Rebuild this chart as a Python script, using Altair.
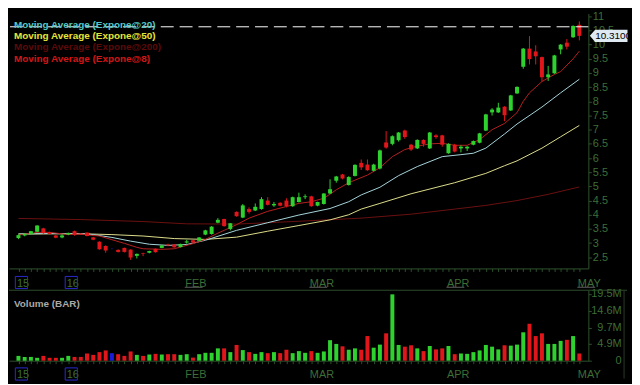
import altair as alt
import pandas as pd

# ---------------- data ----------------
bar_index = list(range(91))
opens = [3.18, 3.27, 3.32, 3.40, 3.52, 3.38, 3.27, 3.20, 3.30, 3.42,
         3.33, 3.37, 3.20, 3.05, 2.90, 2.80, 2.76, 2.83, 2.77, 2.55,
         2.64, 2.66, 2.80, 2.83, 2.95, 2.95, 2.86, 3.02, 3.10, 3.08,
         3.30, 3.32, 3.72, 3.85, 3.50, 4.10, 3.90, 4.20, 4.15, 4.20,
         4.50, 4.33, 4.42, 4.50, 4.30, 4.45, 4.62, 4.65, 4.32, 4.38,
         4.75, 5.20, 5.42, 5.05, 5.37, 5.83, 5.77, 5.55, 5.63, 6.55,
         6.50, 6.63, 6.97, 6.47, 6.34, 6.64, 6.34, 6.80, 6.80, 6.17,
         6.47, 6.34, 6.34, 6.47, 6.54, 6.97, 7.61, 7.61, 7.81, 7.68,
         8.28, 9.22, 9.86, 9.76, 9.56, 8.85, 8.99, 9.83, 10.07, 10.26,
         10.70]
closes = [3.28, 3.32, 3.42, 3.62, 3.35, 3.32, 3.19, 3.27, 3.36, 3.30,
          3.31, 3.25, 3.12, 2.78, 2.74, 2.80, 2.69, 2.69, 2.49, 2.62,
          2.62, 2.72, 2.68, 2.92, 2.92, 2.85, 2.97, 3.06, 3.02, 3.20,
          3.45, 3.58, 3.82, 3.60, 3.70, 3.95, 4.33, 4.10, 4.28, 4.55,
          4.35, 4.38, 4.32, 4.30, 4.62, 4.62, 4.65, 4.30, 4.45, 4.75,
          4.90, 5.35, 5.28, 5.33, 5.76, 5.67, 5.57, 5.77, 6.27, 6.37,
          6.77, 6.90, 6.74, 6.30, 6.64, 6.50, 6.90, 6.74, 6.47, 6.50,
          6.23, 6.40, 6.40, 6.60, 6.87, 7.54, 7.71, 7.78, 7.51, 8.21,
          8.51, 9.86, 9.49, 9.59, 8.85, 8.95, 9.62, 10.00, 9.93, 10.66,
          10.31]
highs = [3.30, 3.34, 3.43, 3.63, 3.54, 3.40, 3.28, 3.31, 3.37, 3.44,
         3.34, 3.38, 3.22, 3.06, 2.92, 2.82, 2.78, 2.84, 2.78, 2.63,
         2.66, 2.73, 2.81, 2.93, 2.98, 2.96, 2.98, 3.12, 3.11, 3.21,
         3.47, 3.60, 3.88, 3.86, 3.71, 4.12, 4.38, 4.26, 4.40, 4.62,
         4.62, 4.45, 4.44, 4.58, 4.64, 4.78, 4.72, 4.67, 4.46, 4.76,
         5.25, 5.37, 5.44, 5.36, 5.78, 5.95, 5.95, 5.80, 6.30, 6.95,
         6.80, 6.92, 7.00, 6.50, 6.66, 6.66, 6.92, 6.84, 6.82, 6.52,
         6.50, 6.45, 6.42, 6.62, 6.89, 7.56, 7.76, 7.95, 7.83, 8.23,
         8.53, 9.88, 10.30, 9.98, 9.58, 9.25, 9.64, 10.02, 10.20, 10.68,
         10.82]
lows = [3.14, 3.24, 3.30, 3.38, 3.33, 3.30, 3.17, 3.17, 3.28, 3.26,
        3.29, 3.24, 3.10, 2.77, 2.66, 2.78, 2.67, 2.67, 2.41, 2.46,
        2.54, 2.64, 2.66, 2.82, 2.89, 2.84, 2.85, 2.98, 3.00, 3.06,
        3.28, 3.30, 3.70, 3.58, 3.45, 3.93, 3.88, 4.04, 4.13, 4.18,
        4.33, 4.28, 4.30, 4.26, 4.28, 4.43, 4.55, 4.28, 4.30, 4.36,
        4.73, 5.13, 5.25, 5.03, 5.35, 5.58, 5.55, 5.53, 5.60, 6.33,
        6.45, 6.58, 6.68, 6.25, 6.32, 6.40, 6.32, 6.68, 6.40, 6.15,
        6.20, 6.20, 6.25, 6.45, 6.52, 6.95, 7.50, 7.59, 7.30, 7.66,
        8.26, 9.15, 9.30, 9.30, 8.70, 8.72, 8.97, 9.66, 9.83, 10.24,
        10.15]
volume_m = [1.4, 1.1, 1.1, 0.84, 1.4, 0.84, 0.84, 0.84, 1.4, 1.1,
            1.1, 2.1, 1.7, 2.5, 3.0, 2.2, 1.9, 1.4, 2.7, 1.7,
            1.4, 1.8, 2.0, 1.8, 1.9, 1.9, 1.7, 1.9, 0.9, 1.9,
            2.3, 2.3, 3.6, 3.6, 2.5, 4.6, 3.1, 2.5, 2.0, 2.5,
            2.2, 2.5, 2.2, 3.2, 2.2, 2.8, 2.3, 2.8, 2.3, 2.7,
            6.0, 4.9, 4.2, 3.2, 3.6, 3.2, 7.2, 3.8, 4.7, 8.0,
            19.4, 4.6, 4.1, 4.5, 3.6, 2.8, 4.3, 3.3, 3.6, 4.3,
            1.9, 2.1, 2.0, 2.5, 3.0, 4.6, 4.1, 3.3, 4.5, 4.4,
            4.7, 8.3, 10.8, 7.2, 8.0, 4.9, 4.9, 5.8, 6.1, 7.2,
            2.1]

ema8_idx = [0, 3, 5, 8, 10, 12, 13, 15, 17, 19, 20, 23, 25, 28, 30, 32, 33, 35, 37, 40,
            43, 45, 47, 49, 51, 53, 56, 58, 60, 62, 64, 66, 68, 70, 72, 74, 76, 78, 80,
            81, 82, 84, 86, 87, 89, 90]
ema8_val = [3.28, 3.38, 3.38, 3.30, 3.32, 3.27, 3.25, 3.12, 2.99, 2.85, 2.80, 2.78, 2.80,
            2.98, 3.13, 3.35, 3.45, 3.65, 3.88, 4.12, 4.29, 4.40, 4.46, 4.58, 4.88, 5.13,
            5.40, 5.66, 6.05, 6.30, 6.42, 6.50, 6.52, 6.45, 6.45, 6.65, 7.00, 7.22, 7.60,
            8.00, 8.30, 8.70, 8.95, 9.05, 9.50, 9.77]
ema20_idx = [0, 5, 10, 12, 15, 18, 21, 24, 27, 30, 35, 40, 45, 50, 53, 55, 58, 61, 64, 68,
             71, 73, 75, 78, 80, 84, 87, 90]
ema20_val = [3.32, 3.34, 3.33, 3.30, 3.20, 3.07, 2.96, 2.92, 2.95, 3.10, 3.45, 3.72, 3.99,
             4.22, 4.46, 4.70, 4.97, 5.38, 5.70, 6.05, 6.12, 6.17, 6.35, 6.85, 7.20, 7.80,
             8.30, 8.78]
ema50_idx = [0, 10, 15, 20, 25, 30, 35, 40, 45, 50, 53, 55, 58, 63, 70, 75, 78, 80, 84, 87, 90]
ema50_val = [3.32, 3.33, 3.30, 3.25, 3.16, 3.13, 3.21, 3.42, 3.62, 3.82, 4.00, 4.20, 4.40,
             4.74, 5.13, 5.46, 5.73, 5.90, 6.35, 6.75, 7.15]
ema200_idx = [0, 10, 20, 27, 35, 45, 55, 63, 70, 75, 80, 85, 90]
ema200_val = [3.87, 3.83, 3.76, 3.68, 3.67, 3.77, 3.88, 4.02, 4.20, 4.33, 4.50, 4.72, 4.98]

legend_labels = ["Moving Average (Expone@20)", "Moving Average (Expone@50)",
                 "Moving Average (Expone@200)", "Moving Average (Expone@8)"]
volume_label = ["Volume (BAR)"]
month_idx = [0, 8, 27, 47, 69, 90]
month_lbl = ["15", "16", "FEB", "MAR", "APR", "MAY"]
boxed_idx = [0, 8]
underlined_idx = [27, 47, 69, 90]
price_ticks = [2.5, 3, 3.5, 4, 4.5, 5, 5.5, 6, 6.5, 7, 7.5, 8, 8.5, 9, 9.5, 10, 10.5, 11]
vol_ticks = [0, 4.9, 9.7, 14.6, 19.5]
dash_level = [10.63]

# ---------------- styling ----------------
W, HP, HV, GAP = 584, 257, 71, 22
FONT = "Liberation Sans"
GREEN, RED, BLUE = "#2fd12f", "#e0161b", "#1c1cd8"
AX, LB = "#2d522d", "#3d6e37"

df = pd.DataFrame({"i": bar_index, "open": opens, "close": closes,
                   "high": highs, "low": lows, "vol": volume_m})
dir_expr = "datum.close > datum.open ? 'up' : (datum.close < datum.open ? 'down' : 'flat')"
color = alt.Color("dir:N", legend=None,
                  scale=alt.Scale(domain=["up", "down", "flat"], range=[GREEN, RED, BLUE]))

xscale = alt.Scale(domain=[-0.72, 90.65], nice=False, zero=False)
yscale = alt.Scale(domain=[2.107, 11.1], nice=False, zero=False)
vscale = alt.Scale(domain=[0, 20.6], nice=False, zero=False)

lbl_expr = "''"
for v, l in reversed(list(zip(month_idx, month_lbl))):
    lbl_expr = f"datum.value == {v} ? '{l}' : ({lbl_expr})"


def x_axis(pad):
    return alt.Axis(values=bar_index, labelExpr=lbl_expr, labelAlign="left", labelOffset=-2,
                    labelOverlap=False, labelFlush=False, tickSize=3, labelPadding=pad,
                    domainColor=AX, tickColor=AX, labelColor=LB, labelFontSize=11,
                    labelFont=FONT, title=None, grid=False)


XP = x_axis(6)
XV = x_axis(5)
YP = alt.Axis(orient="right", values=price_ticks, format=".1~f", tickSize=3,
              labelPadding=1, domainColor=AX, tickColor=AX, labelColor=LB,
              labelFontSize=11, labelFont=FONT, title=None, grid=False)
YV = alt.Axis(orient="right", values=vol_ticks,
              labelExpr="datum.value == 0 ? '0' : format(datum.value, '.1f') + 'M'",
              labelAlign="right", tickSize=3, labelPadding=30, domainColor=AX,
              tickColor=AX, labelColor=LB, labelFontSize=11, labelFont=FONT,
              title=None, grid=False)


def xp(f="i:Q"):
    return alt.X(f, scale=xscale, axis=XP)


def yp(f):
    return alt.Y(f, scale=yscale, axis=YP)


base = alt.Chart(df).transform_calculate(dir=dir_expr)

# ---- price panel ----
layers = []
ema_sets = [(ema200_idx, ema200_val, "#6b1010"), (ema50_idx, ema50_val, "#dede8c"),
            (ema20_idx, ema20_val, "#a6d6dc"), (ema8_idx, ema8_val, "#b51f1f")]
for ix, vals, col in ema_sets:
    layers.append(
        alt.Chart(pd.DataFrame({"i": ix, "v": vals})).mark_line(color=col, strokeWidth=1).encode(
            x=xp(), y=yp("v:Q")))

wicks = base.mark_rule(strokeWidth=1).encode(x=xp(), y=yp("low:Q"), y2="high:Q", color=color)
bodies = base.mark_bar(size=4, strokeWidth=0).encode(
    x=xp(), y=yp("open:Q"), y2="close:Q", color=color)

dash = alt.Chart(pd.DataFrame({"v": dash_level})).mark_rule(
    color="white", strokeWidth=1, strokeDash=[13, 6]).encode(y=yp("v:Q"))

leg_cols = ["#52c9c9", "#e6e638", "#5c0a0a", "#d41515"]
leg_y = [11.2, 23, 34.3, 46]
legends = []
for lab, col, yy in zip(legend_labels, leg_cols, leg_y):
    legends.append(alt.Chart(pd.DataFrame({"t": [lab]})).mark_text(
        align="left", baseline="middle", font=FONT, fontSize=10, fontWeight="bold",
        color=col).encode(text="t:N", x=alt.value(5), y=alt.value(yy)))

last = pd.DataFrame({"v": [closes[-1]]})
tag_shape = "M -1 0 L -0.72 -0.33 L 1 -0.33 L 1 0.33 L -0.72 0.33 Z"
tag = alt.Chart(last).mark_point(shape=tag_shape, filled=True, size=1440, color="#dfe9f2",
                                 opacity=1).encode(x=alt.value(604.5), y=yp("v:Q"))
tag_text = alt.Chart(last).transform_calculate(t="format(datum.v, '.4f')").mark_text(
    align="left", baseline="middle", font=FONT, fontSize=10, color="black").encode(
    x=alt.value(591), y=yp("v:Q"), text="t:N")


def boxes(h, xa):
    return alt.Chart(pd.DataFrame({"i": boxed_idx})).mark_point(
        shape="square", filled=False, color="#2a2ad0", size=150, strokeWidth=1,
        xOffset=3, opacity=1).encode(
        x=alt.X("i:Q", scale=xscale, axis=xa), y=alt.value(h))


underlines = alt.Chart(pd.DataFrame({"i": underlined_idx})).mark_tick(
    orient="horizontal", size=18, thickness=1, color="#5e5e5e", xOffset=7, opacity=1).encode(
    x=xp(), y=alt.value(HP + 19))

price = alt.layer(*layers, wicks, bodies, dash, *legends, tag, tag_text,
                  boxes(HP + 14.2, XP), underlines).properties(width=W, height=HP)

# ---- volume panel ----
vbars = base.mark_bar(size=4, strokeWidth=0).encode(
    x=alt.X("i:Q", scale=xscale, axis=XV),
    y=alt.Y("vol:Q", scale=vscale, axis=YV),
    color=color)
vtitle = alt.Chart(pd.DataFrame({"t": volume_label})).mark_text(
    align="left", baseline="middle", font=FONT, fontSize=10, fontWeight="bold",
    color="#a9a9a9").encode(text="t:N", x=alt.value(5), y=alt.value(13.4))
topline = alt.Chart(pd.DataFrame({"t": volume_label})).mark_rule(color="#2d4d2d").encode(
    x=alt.value(0), x2=alt.value(623), y=alt.value(0))
rightline = alt.Chart(pd.DataFrame({"t": volume_label})).mark_rule(color="#2a3a2a").encode(
    x=alt.value(620), y=alt.value(0), y2=alt.value(HV + 18))

volume = alt.layer(vbars, vtitle, topline, rightline, boxes(HV + 13.4, XV)).properties(
    width=W, height=HV)

chart = alt.vconcat(price, volume, spacing=GAP, bounds="flush").properties(
    padding=0, background="black").configure(font=FONT).configure_view(strokeWidth=0)

chart.save("out.html", embed_options={"renderer": "svg", "actions": False})
